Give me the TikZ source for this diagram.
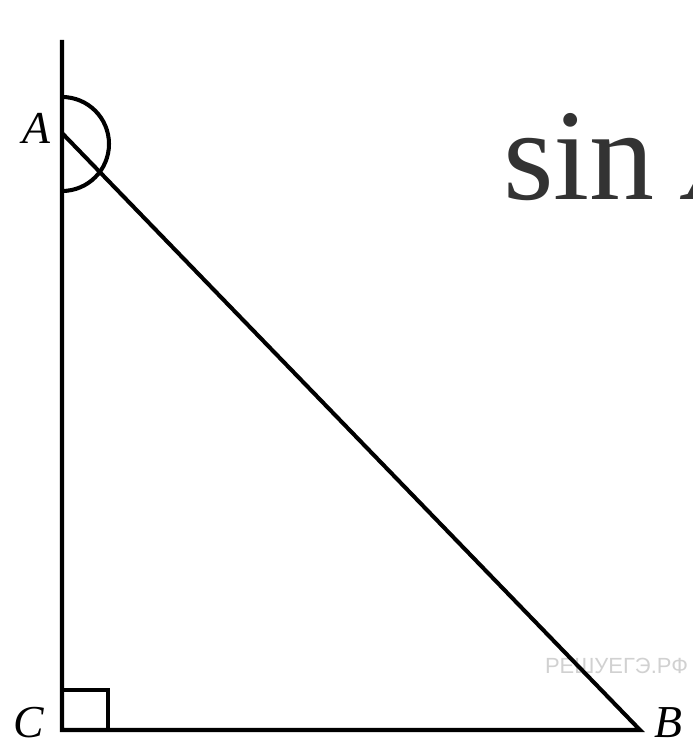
\documentclass[tikz,border=0pt]{standalone}
\usepackage{fontspec}
\setmainfont{Liberation Serif}
\newfontfamily\wmfont{Liberation Sans}
\usetikzlibrary{positioning}

\begin{document}
\begin{tikzpicture}[x=0.02cm, y=-0.02cm, line width=2.3pt,
  vlabel/.style={font=\fontsize{26}{26}\selectfont\itshape, inner sep=0pt}]
  \useasboundingbox (0,0) rectangle (692,746);
  \clip (0,0) rectangle (692,746);
  % watermark and formula
  \node[font=\wmfont\fontsize{12.5}{12.5}\selectfont, text=black!18, anchor=base west, inner sep=0pt] (wm) at (543,673) {РЕШУЕГЭ.РФ};
  \node[font=\fontsize{74}{74}\selectfont, text=black!80, anchor=base west, inner sep=0pt] (sinA) at (501,200) {sin \textit{A}};
  % triangle
  \coordinate (top) at (62,40);
  \coordinate (A) at (62,133);
  \coordinate (C) at (62,730);
  \coordinate (B) at (640,730);
  \coordinate (arcc) at (62,144);
  \draw (top) -- (C) -- (B) -- (A);
  \draw (arcc) ++(0,-47) arc[start angle=-90, end angle=90, radius=47];
  \draw (C) ++(0,-40) -| ++(46,40);
  \node[vlabel] (labA) at (36,128) {A};
  \node[vlabel] (labC) at (29,723) {C};
  \node[vlabel] (labB) at (668,723) {B};
\end{tikzpicture}
\end{document}
